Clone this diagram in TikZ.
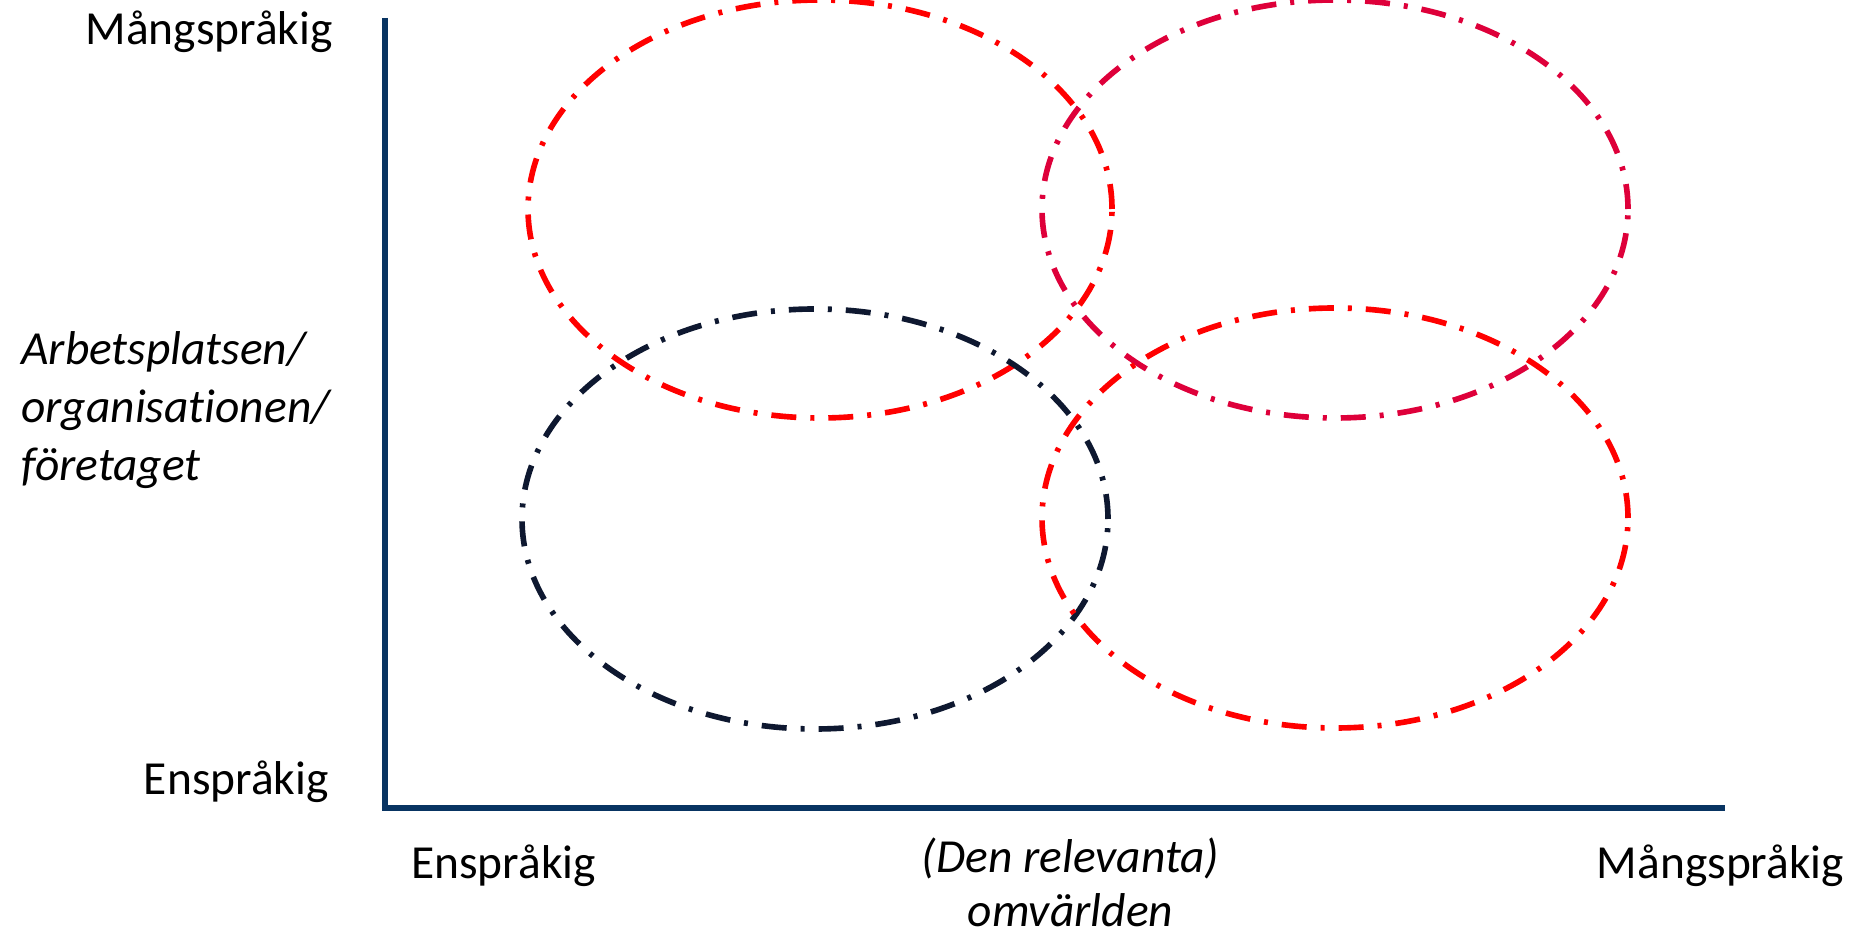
\documentclass[tikz,border=0pt]{standalone}
\usepackage{fontspec}
\setmainfont{Carlito}[Ligatures=NoCommon]
\usepackage{tikz}
\usetikzlibrary{positioning}
\definecolor{axisblue}{RGB}{8,52,98}
\definecolor{crimson}{RGB}{222,0,58}
\definecolor{darknavy}{RGB}{14,24,48}
\tikzstyle{axisline} = [line width=3.4pt, draw=axisblue]
\tikzstyle{ring} = [line width=3.2pt, dash pattern=on 0.5cm off 0.28cm on 0.08cm off 0.28cm]
\tikzstyle{lbl} = [inner sep=0pt, font=\fontsize{27}{33}\selectfont]
\tikzstyle{lblit} = [lbl, font=\fontsize{27}{33}\selectfont\itshape]

\begin{document}
\begin{tikzpicture}
\useasboundingbox (0,0) rectangle (37.06,18.82);
% axes
\coordinate (origin) at (7.70,2.66);
\coordinate (ytop) at (7.70,18.46);
\coordinate (xend) at (34.50,2.66);
\draw [axisline] (ytop) -- (origin) -- (xend);
% ellipses
\draw [ring, red] (16.40,14.64) ellipse (5.84cm and 4.18cm);
\draw [ring, crimson] (26.70,14.64) ellipse (5.86cm and 4.18cm);
\draw [ring, darknavy] (16.30,8.44) ellipse (5.86cm and 4.20cm);
\draw [ring, red] (26.70,8.46) ellipse (5.86cm and 4.20cm);
% labels
\node (ymax) [lbl, anchor=east] at (6.66,18.18) {Mångspråkig};
\node (ymin) [lbl, anchor=east] at (6.58,3.18) {Enspråkig};
\node (ytitle) [lblit, anchor=west, align=left] at (0.42,10.62) {Arbetsplatsen/\\organisationen/\\företaget};
\node (xmin) [lbl] at (10.07,1.50) {Enspråkig};
\node (xtitle) [lblit, align=center, font=\fontsize{27}{31}\selectfont\itshape, anchor=north] at (21.41,2.08) {(Den relevanta)\\omvärlden};
\node (xmax) [lbl] at (34.41,1.50) {Mångspråkig};
\end{tikzpicture}
\end{document}
